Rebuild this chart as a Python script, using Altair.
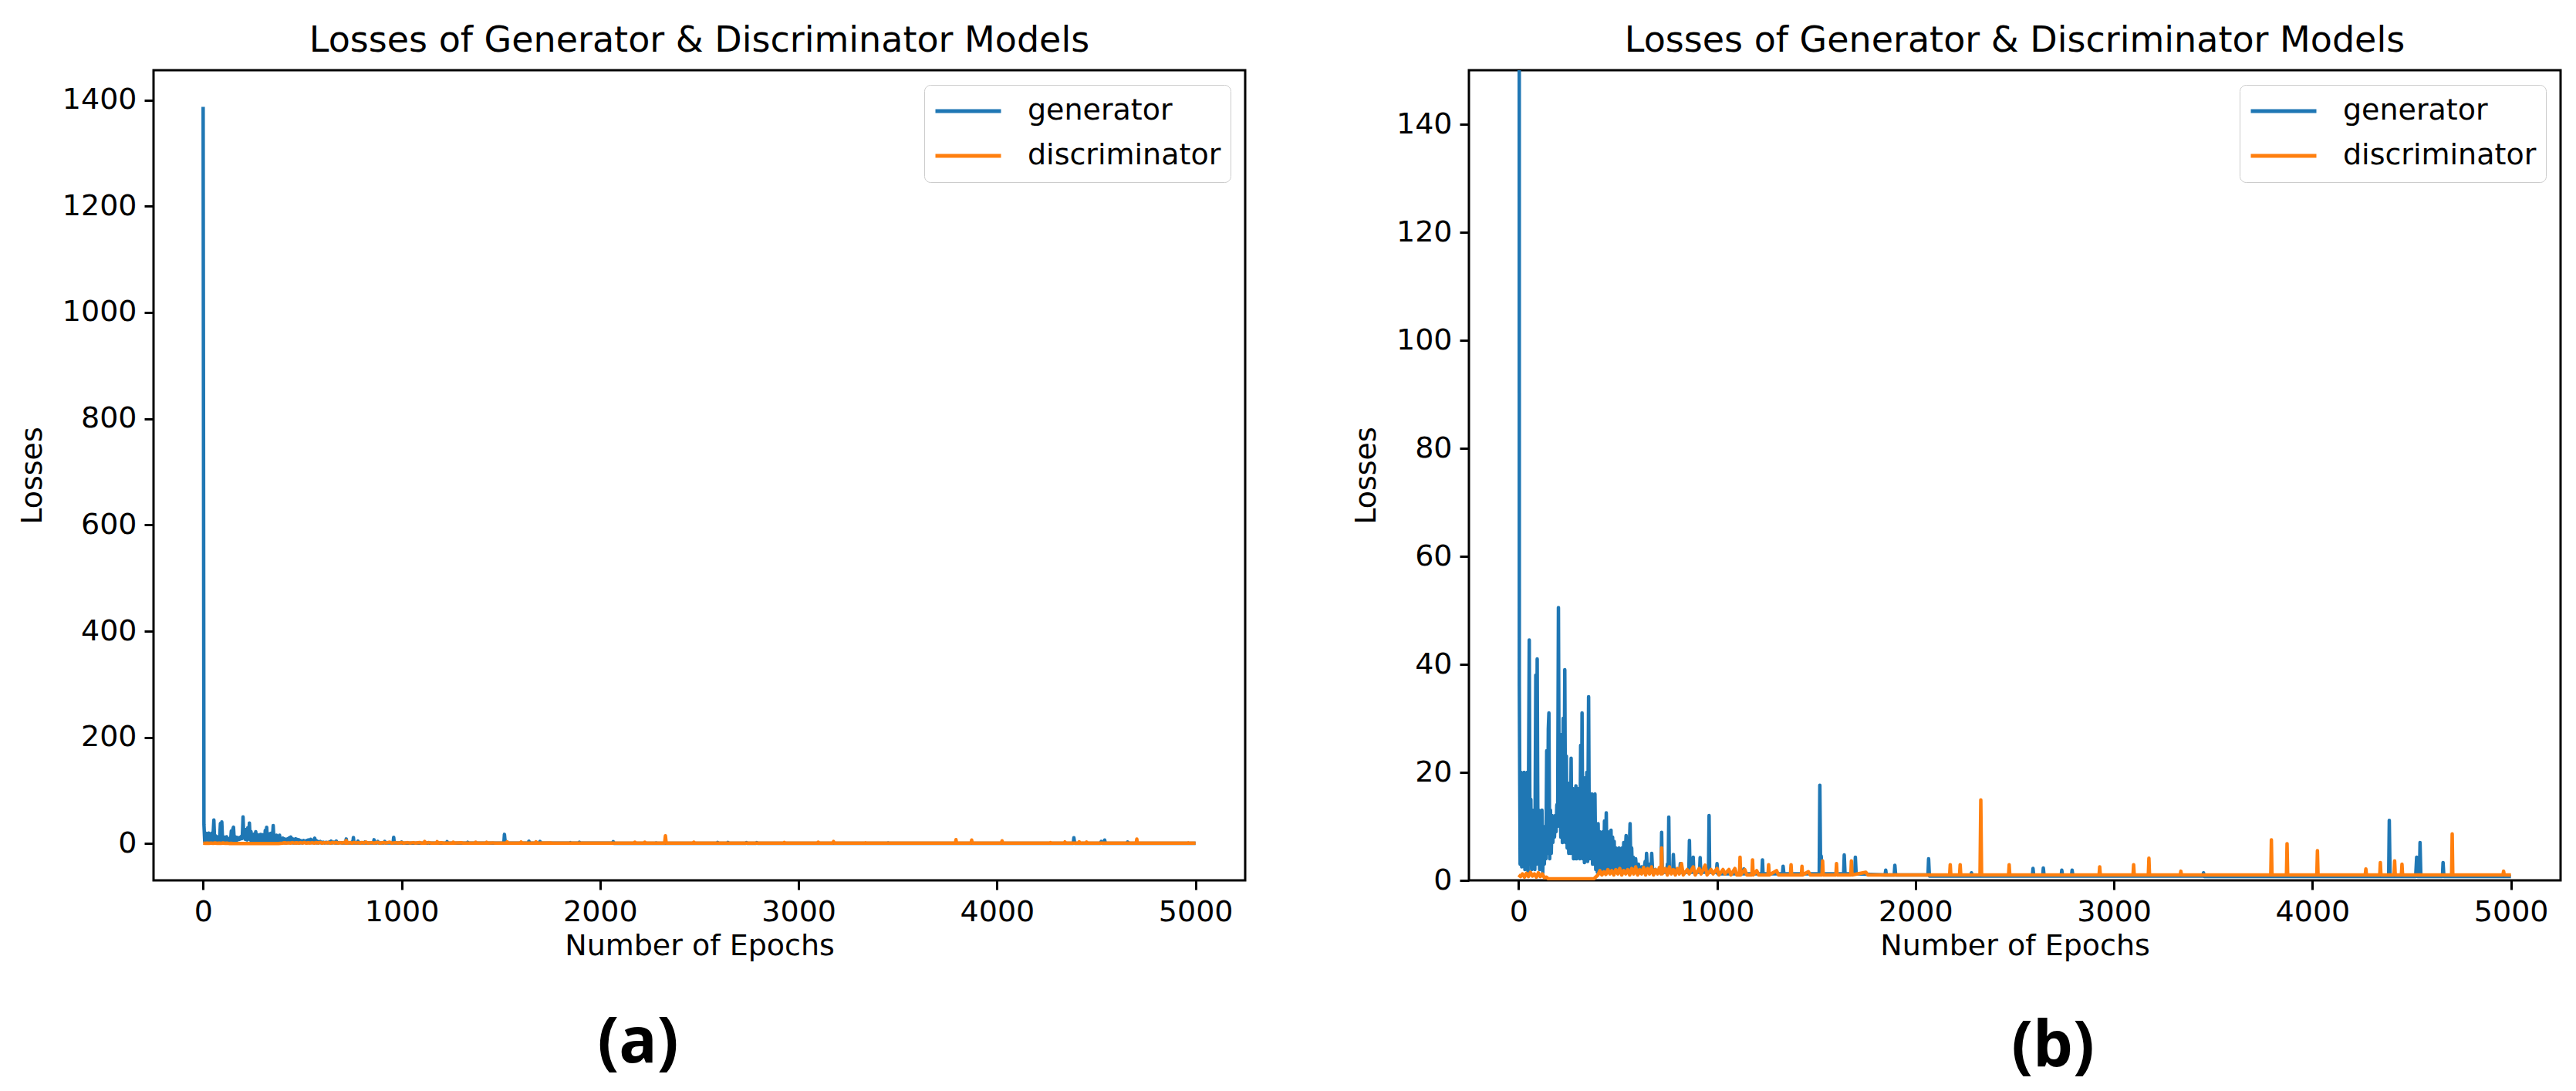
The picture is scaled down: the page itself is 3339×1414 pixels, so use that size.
import altair as alt
import pandas as pd

TITLE = "Losses of Generator & Discriminator Models"
series_names = ["generator", "discriminator"]
series_colors = ["#1f77b4", "#ff7f0e"]
panel_labels = ["(a)", "(b)"]
x_ticks = [0, 1000, 2000, 3000, 4000, 5000]
y_ticks_a = [0, 200, 400, 600, 800, 1000, 1200, 1400]
y_ticks_b = [0, 20, 40, 60, 80, 100, 120, 140]

# (epoch, loss)
generator_points = [
    (0, 1387), (4, 36), (8, 3), (12, 20), (16, 2.5), (20, 19), (24, 3), (28, 20), (32, 2), (36, 14),
    (40, 3), (44, 20), (48, 1.5), (54, 44.5), (58, 3), (62, 15), (66, 2), (70, 13), (74, 3), (78, 10),
    (82, 2), (87, 38), (90, 3), (94, 41), (98, 4), (102, 13), (106, 2), (110, 12), (114, 3), (118, 13),
    (122, 1.4), (126, 8), (130, 3), (134, 10), (138, 4), (142, 24), (146, 5), (150, 28), (153, 31), (157, 4),
    (161, 13), (165, 5), (169, 12), (173, 7), (177, 11), (181, 8), (185, 12), (189, 9), (193, 14), (197, 10),
    (201, 50.5), (205, 11), (209, 20), (213, 8), (217, 27), (221, 7), (225, 30), (229, 9), (233, 39), (237, 7),
    (241, 23), (245, 6), (249, 15), (253, 5), (257, 18), (261, 5), (265, 22.6), (269, 5), (273, 17), (277, 4),
    (281, 16), (285, 4), (289, 17.5), (293, 4), (297, 17), (301, 5), (305, 14), (309, 4), (313, 25), (317, 5),
    (320, 31), (324, 4), (328, 16), (332, 3.3), (336, 19), (340, 4), (344, 20), (348, 3.5), (353, 34), (357, 4),
    (361, 15), (365, 4), (369, 16), (373, 3), (377, 14), (381, 3), (385, 16), (389, 2), (393, 10), (397, 1.5),
    (401, 10.5), (405, 2), (409, 9), (413, 1.5), (417, 8), (421, 1.8), (425, 9), (429, 2), (433, 11), (437, 2),
    (442, 12.5), (446, 2), (450, 9), (454, 1.5), (458, 8), (462, 2), (466, 9.3), (470, 1.5), (474, 8), (478, 2),
    (482, 7.2), (486, 1.5), (490, 6), (494, 2), (498, 5), (502, 1.5), (506, 6), (510, 2.6), (514, 5), (518, 1.5),
    (522, 6), (526, 2), (530, 7), (534, 2), (542, 8.3), (546, 2), (550, 6), (554, 1.8), (562, 10.5), (566, 2),
    (570, 6), (574, 1.5), (578, 4.3), (582, 1.5), (590, 4), (596, 1.4), (604, 3), (610, 1.4), (620, 2.5), (630, 1.5),
    (638, 3.5), (642, 1.5), (645, 5), (650, 1.5), (660, 3), (667, 1.5), (671, 5), (676, 1.5), (690, 2), (700, 1.5),
    (718, 1.5), (721, 8.9), (724, 1.5), (747, 1.5), (750, 3), (754, 1.5), (757, 11.7), (760, 1.5), (777, 1.5), (780, 4.8),
    (784, 1.5), (812, 1.5), (815, 3.1), (818, 1.5), (858, 1.5), (861, 7.4), (864, 1.5), (877, 1.5), (880, 4.3), (883, 1.5),
    (912, 1.5), (915, 4.2), (918, 1.5), (957, 1.5), (960, 12), (963, 1.5), (997, 1.5), (1000, 3.1), (1004, 1.2), (1132, 1.2),
    (1135, 2.1), (1139, 1.2), (1226, 1.2), (1229, 3.8), (1232, 1.2), (1330, 1.2), (1333, 2.6), (1337, 1.2), (1515, 1.2), (1518, 17.6),
    (1522, 1.5), (1525, 4.5), (1529, 1.2), (1638, 1.2), (1641, 4.7), (1645, 1.2), (1694, 1.2), (1697, 4.3), (1701, 1.2), (1847, 1.0),
    (1850, 1.9), (1853, 1.0), (1893, 1.0), (1896, 2.8), (1900, 1.0), (2063, 1.0), (2066, 4), (2070, 0.8), (2279, 0.8), (2282, 1.4),
    (2286, 0.8), (2589, 0.8), (2592, 2.2), (2596, 0.8), (2641, 0.8), (2644, 2.3), (2648, 0.8), (2734, 0.8), (2737, 1.9), (2741, 0.8),
    (2786, 0.8), (2789, 1.9), (2793, 0.8), (3448, 0.8), (3451, 1.4), (3455, 0.7), (4384, 0.7), (4387, 11.1), (4391, 0.7), (4520, 0.7),
    (4525, 4.3), (4530, 0.7), (4539, 0.7), (4542, 7), (4546, 0.7), (4655, 0.7), (4658, 3.3), (4662, 0.7), (5000, 0.7),
]

discriminator_points = [
    (0, 1.0), (10, 0.7), (20, 1.2), (30, 0.6), (40, 1.3), (50, 0.7), (60, 1.5), (70, 0.8), (80, 1.2), (90, 0.6),
    (100, 1.4), (110, 0.7), (120, 1.2), (130, 0.5), (140, 0.6), (150, 0.3), (380, 0.3), (400, 1.0), (410, 1.8), (420, 1.0),
    (430, 1.6), (440, 1.1), (450, 2.0), (460, 1.2), (470, 1.8), (480, 1.0), (490, 2.0), (500, 1.2), (510, 2.2), (520, 1.0),
    (530, 1.8), (540, 1.2), (550, 2.0), (560, 1.0), (570, 2.2), (580, 1.2), (590, 2.5), (600, 1.0), (610, 2.0), (620, 1.2),
    (630, 2.4), (640, 1.0), (650, 2.2), (660, 1.2), (670, 2.5), (680, 1.0), (690, 2.0), (700, 1.2), (710, 2.4), (718, 1.2),
    (721, 6.0), (724, 1.2), (740, 2.2), (750, 1.0), (760, 2.5), (770, 1.2), (780, 2.0), (790, 1.0), (800, 2.2), (810, 1.2),
    (821, 3.1), (830, 1.0), (850, 2.0), (860, 1.2), (880, 2.5), (890, 1.0), (910, 2.2), (920, 1.2), (940, 2.8), (950, 1.0),
    (970, 2.0), (980, 1.2), (1000, 2.2), (1010, 1.0), (1030, 2.0), (1040, 1.2), (1060, 2.0), (1070, 1.0), (1090, 2.2), (1100, 1.0),
    (1113, 1.0), (1116, 4.3), (1119, 1.0), (1140, 2.0), (1150, 1.0), (1176, 1.0), (1179, 3.8), (1182, 1.0), (1200, 1.8), (1210, 1.0),
    (1257, 1.0), (1260, 2.9), (1263, 1.0), (1300, 1.8), (1310, 1.0), (1370, 1.0), (1373, 2.9), (1376, 1.0), (1425, 1.0), (1428, 2.6),
    (1431, 1.0), (1460, 1.6), (1470, 1.0), (1529, 1.0), (1532, 3.6), (1535, 1.0), (1599, 1.0), (1602, 3.1), (1605, 1.0), (1674, 1.0),
    (1677, 3.6), (1680, 1.0), (1750, 1.5), (1760, 1.0), (2172, 1.0), (2175, 2.9), (2178, 1.0), (2222, 1.0), (2225, 2.9), (2228, 1.0),
    (2325, 1.0), (2329, 14.9), (2333, 1.0), (2469, 1.0), (2472, 2.9), (2475, 1.0), (2925, 1.0), (2928, 2.5), (2931, 1.0), (3096, 1.0),
    (3099, 2.9), (3102, 1.0), (3173, 1.0), (3176, 4.1), (3179, 1.0), (3334, 1.0), (3337, 1.7), (3340, 1.0), (3790, 1.0), (3793, 7.5),
    (3796, 1.0), (3869, 1.0), (3872, 6.8), (3875, 1.0), (4022, 1.0), (4025, 5.5), (4028, 1.0), (4266, 1.0), (4269, 2.1), (4272, 1.0),
    (4339, 1.0), (4342, 3.3), (4345, 1.0), (4411, 1.0), (4414, 3.6), (4417, 1.0), (4448, 1.0), (4451, 3.0), (4454, 1.0), (4701, 1.0),
    (4704, 8.6), (4707, 1.0), (4960, 1.0), (4963, 1.7), (4966, 1.0), (5000, 1.0),
]

rows = [{"epoch": e, "loss": v, "series": series_names[0]} for e, v in generator_points]
rows += [{"epoch": e, "loss": v, "series": series_names[1]} for e, v in discriminator_points]
df = pd.DataFrame(rows)

FONT = "DejaVu Sans"


def panel(y_domain, y_ticks, label, width, label_x, label_y, clip):
    lines = alt.Chart(df).mark_line(strokeWidth=4.5, strokeJoin="round", clip=clip).encode(
        x=alt.X("epoch:Q",
                scale=alt.Scale(domain=[-250, 5250], nice=False, zero=False),
                axis=alt.Axis(values=x_ticks, title="Number of Epochs", format="d")),
        y=alt.Y("loss:Q",
                scale=alt.Scale(domain=y_domain, nice=False, zero=False),
                axis=alt.Axis(values=y_ticks, title="Losses", format="d")),
        color=alt.Color("series:N",
                        scale=alt.Scale(domain=series_names, range=series_colors),
                        legend=alt.Legend(title=None, orient="top-right", offset=19,
                                          labelFont=FONT, labelFontSize=38, labelColor="black",
                                          labelLimit=600,
                                          symbolType="stroke", symbolSize=7225, symbolStrokeWidth=5,
                                          labelOffset=32, padding=12, rowPadding=14,
                                          strokeColor="#cccccc", fillColor="white",
                                          cornerRadius=8, clipHeight=44)),
    )
    txt = alt.Chart(pd.DataFrame({"label": [label]})).mark_text(
        font="Open Sans", fontSize=82, fontWeight="bold", color="black",
        align="center", baseline="middle",
    ).encode(x=alt.value(label_x), y=alt.value(label_y), text="label:N")
    return alt.layer(lines, txt).properties(
        width=width, height=1050,
        title=alt.TitleParams(TITLE, font=FONT, fontSize=46, fontWeight="normal",
                              color="black", anchor="middle", frame="group", offset=14),
    )


pa = panel([-69, 1456], y_ticks_a, panel_labels[0], 1415, 628, 1261, False)
pb = panel([0, 150], y_ticks_b, panel_labels[1], 1415, 757, 1266, True)

chart = alt.hconcat(pa, pb, spacing=134).resolve_scale(
    color="independent", x="independent", y="independent"
).resolve_legend(color="independent").properties(
    padding={"left": 13, "top": 20, "right": 5, "bottom": 5}
).configure_view(
    stroke="black", strokeWidth=3
).configure_axis(
    domain=False, grid=False, tickColor="black", tickWidth=3, tickSize=12,
    labelFont=FONT, labelFontSize=38, labelColor="black", labelPadding=10,
    titleFont=FONT, titleFontSize=38, titleFontWeight="normal", titleColor="black",
).configure_axisX(titlePadding=6).configure_axisY(titlePadding=19)

chart.save("out.html", embed_options={"renderer": "svg", "actions": False})
